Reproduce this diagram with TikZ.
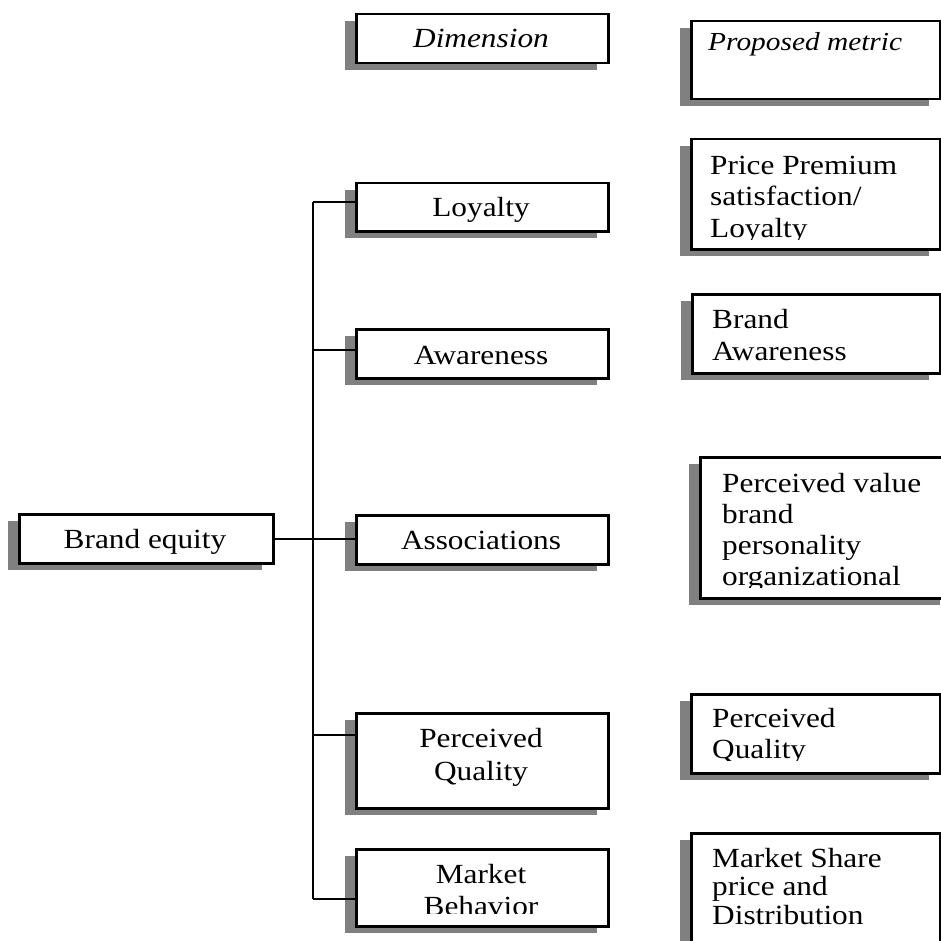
\documentclass[tikz,border=0pt]{standalone}
\usepackage{fontspec}
\setmainfont{Liberation Serif}[FakeStretch=1.13]
\usetikzlibrary{shadows}
\definecolor{shadowgray}{RGB}{128,128,128}
\tikzset{
  box/.style={draw=black, line width=2.5pt, fill=white, inner sep=0pt, anchor=north west,
    drop shadow={shadow xshift=-11pt, shadow yshift=-7pt, fill=shadowgray, opacity=1, draw=none}},
  lbl/.style={inner sep=0pt, font=\fontsize{27.7}{32}\selectfont},
  mtxt/.style={inner sep=0pt, anchor=north west, align=left},
  ctxt/.style={inner sep=0pt, anchor=north, align=center},
  conn/.style={line width=2.3pt},
}
\begin{document}
\begin{tikzpicture}[x=1pt,y=-1pt]
\useasboundingbox (0,0) rectangle (941,941);
% ---- boxes ----
\node[box, minimum width=252pt, minimum height=49pt]  (dim) at (355,13)  {};
\node[box, minimum width=249pt, minimum height=78pt]  (pm)  at (690,20)  {};
\node[box, minimum width=249pt, minimum height=110pt] (pp)  at (690,138) {};
\node[box, minimum width=252pt, minimum height=48pt]  (loy) at (355,182) {};
\node[box, minimum width=248pt, minimum height=79pt]  (ba)  at (691,293) {};
\node[box, minimum width=252pt, minimum height=49pt]  (awa) at (355,328) {};
\node[box, minimum width=251pt, minimum height=141pt] (pv)  at (699,456) {};
\node[box, minimum width=254pt, minimum height=49pt]  (be)  at (18,513)  {};
\node[box, minimum width=252pt, minimum height=49pt]  (ass) at (355,514) {};
\node[box, minimum width=249pt, minimum height=79pt]  (pqm) at (690,693) {};
\node[box, minimum width=252pt, minimum height=95pt]  (pq)  at (355,712) {};
\node[box, minimum width=249pt, minimum height=128pt] (ms)  at (690,832) {};
\node[box, minimum width=252pt, minimum height=77pt]  (mb)  at (355,848) {};
% ---- connectors ----
\coordinate (tTop) at (313,202);
\coordinate (jAwa) at (313,350);
\coordinate (jPq)  at (313,735);
\coordinate (tBot) at (313,899);
\draw[conn] (tTop) -- (tBot);
\draw[conn] (tTop) -- (tTop -| loy.west);
\draw[conn] (jAwa) -- (jAwa -| awa.west);
\draw[conn] (be.east) -- (be.east -| ass.west);
\draw[conn] (jPq) -- (jPq -| pq.west);
\draw[conn] (tBot) -- (tBot -| mb.west);
% ---- left column texts ----
\node[lbl, anchor=base] (dimT) at (481,48)  {\itshape Dimension};
\node[lbl, anchor=base] (loyT) at (481,217) {Loyalty};
\node[lbl, anchor=base] (awaT) at (481,364) {Awareness};
\node[lbl, anchor=base] (beT)  at (145,548) {Brand equity};
\node[lbl, anchor=base] (assT) at (481,549) {Associations};
\node[ctxt, font=\fontsize{27.7}{33}\selectfont] (pqT) at (481,727) {\rule{0pt}{20pt}Perceived\\Quality};
\begin{scope}
  \clip (357,850) rectangle (605,913);
  \node[ctxt, font=\fontsize{27.7}{32}\selectfont] (mbT) at (481,863) {\rule{0pt}{20pt}Market\\Behavior};
\end{scope}
% ---- right column texts ----
\node[mtxt, font=\fontsize{26}{30}\selectfont] (pmT) at (708,30) {\rule{0pt}{20pt}\itshape Proposed metric};
\begin{scope}
  \clip (692,140) rectangle (937,239);
  \node[mtxt, font=\fontsize{27.7}{31.5}\selectfont] (ppT) at (710,154) {\rule{0pt}{20pt}Price Premium\\satisfaction/\\Loyalty};
\end{scope}
\node[mtxt, font=\fontsize{27.7}{32}\selectfont] (baT) at (712,308) {\rule{0pt}{20pt}Brand\\Awareness};
\begin{scope}
  \clip (701,458) rectangle (941,587);
  \node[mtxt, font=\fontsize{27.7}{31}\selectfont] (pvT) at (722,472) {\rule{0pt}{20pt}Perceived value\\brand\\personality\\organizational};
\end{scope}
\begin{scope}
  \clip (692,695) rectangle (937,760);
  \node[mtxt, font=\fontsize{27.7}{31}\selectfont] (pqmT) at (712,707) {\rule{0pt}{20pt}Perceived\\Quality};
\end{scope}
\node[mtxt, font=\fontsize{27.7}{28.5}\selectfont] (msT) at (712,847) {\rule{0pt}{20pt}Market Share\\price and\\Distribution};
\end{tikzpicture}
\end{document}
